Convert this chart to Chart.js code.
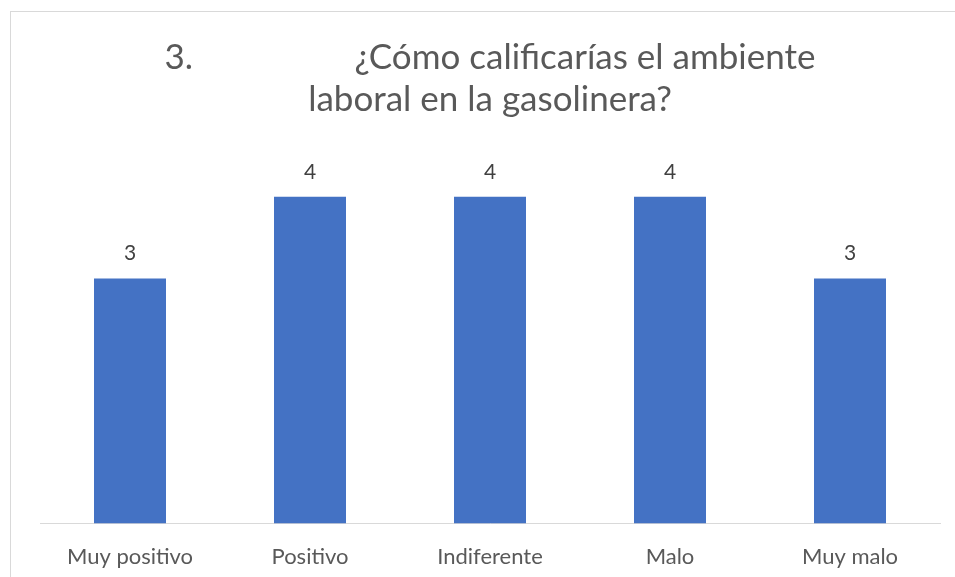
<!DOCTYPE html>
<html>
<head>
<meta charset="utf-8">
<script src="https://cdn.jsdelivr.net/npm/chart.js@4.4.1/dist/chart.umd.min.js"></script>
<style>
    html, body { margin: 0; padding: 0; background: #fff; overflow: hidden; }
    #frame { position: absolute; left: 10px; top: 11px; width: 1000px; height: 600px; border: 1px solid #d9d9d9; }
    #wrap { position: absolute; left: 0; top: 0; width: 955px; height: 577px; }
</style>
</head>
<body>
<div id="frame"></div>
<div id="wrap"><canvas id="chart"></canvas></div>
<script>
const categories = ['Muy positivo', 'Positivo', 'Indiferente', 'Malo', 'Muy malo'];
const answers = [3, 4, 4, 4, 3];
const titleLines = ['3.                  ¿Cómo calificarías el ambiente', 'laboral en la gasolinera?'];

const valueLabels = {
    id: 'valueLabels',
    afterDatasetsDraw(chart) {
        const ctx = chart.ctx;
        const meta = chart.getDatasetMeta(0);
        ctx.save();
        ctx.font = '21px Lato';
        ctx.fillStyle = '#404040';
        ctx.textAlign = 'center';
        ctx.textBaseline = 'middle';
        meta.data.forEach((bar, i) => {
            ctx.fillText(String(answers[i]), bar.x, bar.y - 25);
        });
        ctx.restore();
    }
};

const ctx = document.getElementById('chart').getContext('2d');
new Chart(ctx, {
    type: 'bar',
    data: {
        labels: categories,
        datasets: [{
            data: answers,
            backgroundColor: '#4472C4',
            categoryPercentage: 1,
            barPercentage: 0.4
        }]
    },
    options: {
        responsive: true,
        maintainAspectRatio: false,
        animation: false,
        layout: { padding: { left: 40, right: 15, top: 0, bottom: -13 } },
        plugins: {
            legend: { display: false },
            tooltip: { enabled: false },
            title: {
                display: true,
                text: titleLines,
                color: '#595959',
                font: { family: 'Lato', size: 35, weight: 'normal', lineHeight: 1.2 },
                padding: { top: 37, bottom: 35 }
            }
        },
        scales: {
            y: {
                display: false,
                min: 0,
                max: 4.5
            },
            x: {
                grid: { display: false, drawTicks: false },
                border: { display: true, color: '#d9d9d9', width: 1 },
                ticks: {
                    color: '#595959',
                    font: { family: 'Lato', size: 22 },
                    padding: 20,
                    maxRotation: 0
                }
            }
        }
    },
    plugins: [valueLabels]
});
</script>
</body>
</html>
